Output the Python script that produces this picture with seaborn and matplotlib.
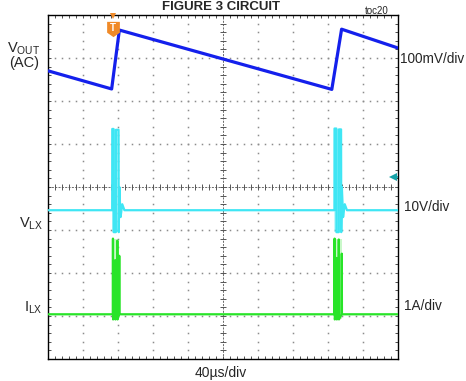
import numpy as np
import matplotlib
matplotlib.use("Agg")
import matplotlib.pyplot as plt
import seaborn as sns
from matplotlib.path import Path

# ---- screen setup: 10 horizontal divisions at 40 us/div, 8 vertical divisions ----
US_PER_DIV = 40
N_HDIV, N_VDIV = 10, 8

# ---- traces (time in us, level in screen divisions) ----
# V_OUT (AC-coupled) sawtooth ripple
vout_t = [0, 72.4, 81.2, 324.0, 335.2, 400]
vout_v = [6.70, 6.28, 7.65, 6.27, 7.67, 7.23]

# V_LX switching node
vlx_t = [0, 73.0, 73.1, 74.6, 74.7, 77.2, 77.3, 80.3, 80.5, 81.2, 82.6, 84.5, 87.0,
         327.0, 327.1, 329.2, 329.3, 332.0, 332.1, 334.6, 334.8, 335.5, 336.9, 338.8, 341.3, 400]
vlx_v = [3.46, 3.46, 5.35, 5.35, 2.95, 2.95, 5.33, 5.33, 2.95, 4.00, 3.30, 3.60, 3.46,
         3.46, 5.36, 5.36, 2.95, 2.95, 5.34, 5.34, 2.95, 4.00, 3.30, 3.60, 3.46, 3.46]
vlx_burst_start = [73.0, 327.0]
vlx_burst_end = [80.5, 334.8]
vlx_burst_lo, vlx_burst_hi = 2.95, 5.35

# I_LX inductor current
ilx_t = [0, 73.7, 73.9, 74.1, 76.3, 76.5, 76.7, 78.7, 78.9, 79.1, 80.9, 81.1, 81.3,
         327.0, 327.2, 327.4, 329.4, 329.6, 329.8, 331.8, 332.0, 332.2, 335.2, 335.4, 335.6, 400]
ilx_v = [1.04, 1.04, 2.80, 0.92, 1.04, 2.30, 0.92, 1.04, 2.75, 0.92, 1.04, 2.40, 1.04,
         1.04, 2.80, 0.92, 1.04, 2.35, 0.92, 1.04, 2.78, 0.92, 1.04, 2.45, 1.04, 1.04]
ilx_burst_start = [73.7, 327.0]
ilx_burst_end = [81.3, 335.6]
ilx_burst_lo, ilx_burst_hi = 0.92, 2.80

trigger_t = 73.6
trigger_level = 7.67
ref_marker_level = 4.24

# ---- labels ----
title = "FIGURE 3 CIRCUIT"
toc_label = "toc20"
timebase_label = "40\u00b5s/div"
left_labels = ["V$_{OUT}$", "(AC)", "V$_{LX}$", "I$_{LX}$"]
scale_labels = ["100mV/div", "10V/div", "1A/div"]

BLUE = "#1420ec"
CYAN = "#3fe6f4"
GREEN = "#28e428"
ORANGE = "#f08a28"
TEAL = "#17a3a8"

sns.set_style("white")
plt.rcParams["font.family"] = ["Liberation Sans", "DejaVu Sans"]
plt.rcParams["mathtext.default"] = "regular"

W, H = 466, 381
fig = plt.figure(figsize=(W / 100, H / 100), dpi=100)
L, R, T, B = 48.3, 398.3, 15.0, 359.0
ax = fig.add_axes([L / W, 1 - B / H, (R - L) / W, (B - T) / H])
xmax = US_PER_DIV * N_HDIV
ax.set_xlim(0, xmax)
ax.set_ylim(0, N_VDIV)

# graticule: dotted lines made of dots at every 1/5 division
minor_x = np.arange(0, xmax + 0.01, US_PER_DIV / 5)
minor_y = np.arange(0, N_VDIV + 0.01, 0.2)
dot_kw = dict(ls="none", marker="s", ms=1.1, mew=0, color="#8c8c8c", zorder=1)
for gy in range(1, N_VDIV):
    if gy != N_VDIV // 2:
        ax.plot(minor_x, np.full_like(minor_x, gy), **dot_kw)
for gx in range(1, N_HDIV):
    if gx != N_HDIV // 2:
        ax.plot(np.full_like(minor_y, gx * US_PER_DIV), minor_y, **dot_kw)

# centre cross with tick marks
cx, cy = xmax / 2, N_VDIV / 2
ax.axhline(cy, color="#555555", lw=0.6, ls=(0, (2.5, 1.5)), zorder=1)
ax.axvline(cx, color="#555555", lw=0.6, ls=(0, (2.5, 1.5)), zorder=1)
ax.plot(minor_x, np.full_like(minor_x, cy), ls="none", marker="|", ms=4.5,
        mew=0.7, color="#555555", zorder=1)
ax.plot(np.full_like(minor_y, cx), minor_y, ls="none", marker="_", ms=4.5,
        mew=0.7, color="#555555", zorder=1)

# burst envelopes
for s, e in zip(vlx_burst_start, vlx_burst_end):
    ax.fill_between([s, e], vlx_burst_lo, vlx_burst_hi, color=CYAN, alpha=0.3,
                    lw=0, zorder=2)
for s, e in zip(ilx_burst_start, ilx_burst_end):
    ax.fill_between([s, e], ilx_burst_lo, ilx_burst_hi, color=GREEN, alpha=0.25,
                    lw=0, zorder=2)

# traces
sns.lineplot(x=ilx_t, y=ilx_v, sort=False, estimator=None, color=GREEN,
             lw=1.6, ax=ax, zorder=3)
sns.lineplot(x=vlx_t, y=vlx_v, sort=False, estimator=None, color=CYAN,
             lw=1.6, ax=ax, zorder=3)
sns.lineplot(x=vout_t, y=vout_v, sort=False, estimator=None, color=BLUE,
             lw=2.3, ax=ax, zorder=4)

# trigger marker
tri_path = Path([(-0.5, 0.6), (0.5, 0.6), (0.5, -0.25), (0, -0.6), (-0.5, -0.25), (-0.5, 0.6)],
                [Path.MOVETO, Path.LINETO, Path.LINETO, Path.LINETO, Path.LINETO, Path.CLOSEPOLY])
ax.plot([trigger_t], [trigger_level], marker=tri_path, ms=11, color=ORANGE,
        mew=0, zorder=6, clip_on=False)
ax.text(trigger_t, trigger_level + 0.02, "T", color="white", fontsize=7,
        fontweight="bold", ha="center", va="center", zorder=7)
ax.plot([trigger_t], [N_VDIV - 0.03], marker="v", ms=5, color=ORANGE, mew=0,
        zorder=6, clip_on=False)

# ground reference marker for the V_LX channel
ax.plot([xmax - 5.5], [ref_marker_level], marker="<", ms=5.5, color=TEAL, mew=0, zorder=6)
ax.plot([xmax - 5.5, xmax], [ref_marker_level] * 2, color=TEAL, lw=1.2, zorder=6)

# frame and inward edge ticks
for sp in ax.spines.values():
    sp.set_visible(True)
    sp.set_color("black")
    sp.set_linewidth(1.0)
ax.set_xticks(minor_x)
ax.set_yticks(minor_y)
ax.tick_params(direction="in", length=2.5, width=0.6, color="#333333",
               top=True, right=True, bottom=True, left=True,
               labelbottom=False, labelleft=False)
ax.set_xlabel("")
ax.set_ylabel("")

# text
def px(x, y):
    return x / W, 1 - y / H

fig.text(*px(221, 9.5), title, fontsize=9.5, fontweight="bold", ha="center", va="baseline")
fig.text(*px(389, 13.5), toc_label, fontsize=7, ha="right", va="baseline")
fig.text(*px(221, 373), timebase_label, fontsize=10, ha="center", va="center")

fig.text(*px(40, 53), left_labels[0], fontsize=10.5, ha="right", va="baseline")
fig.text(*px(24, 63), left_labels[1], fontsize=10.5, ha="center", va="center")
fig.text(*px(43, 228), left_labels[2], fontsize=10.5, ha="right", va="baseline")
fig.text(*px(43, 312), left_labels[3], fontsize=10.5, ha="right", va="baseline")

fig.text(*px(400, 59), scale_labels[0], fontsize=9.8, ha="left", va="center")
fig.text(*px(404, 207.5), scale_labels[1], fontsize=9.8, ha="left", va="center")
fig.text(*px(404, 306), scale_labels[2], fontsize=9.8, ha="left", va="center")

fig.savefig("out.png", dpi=100)
